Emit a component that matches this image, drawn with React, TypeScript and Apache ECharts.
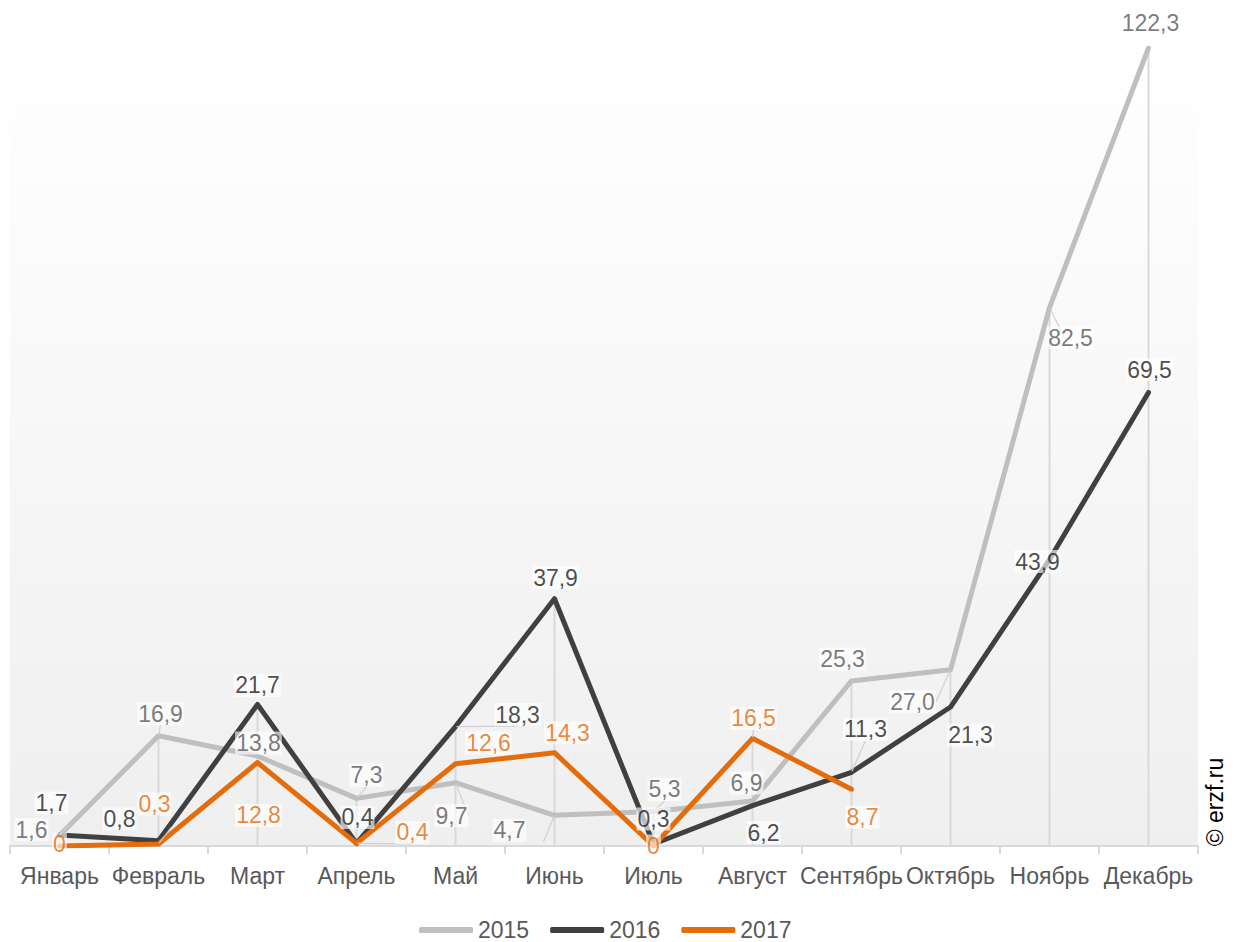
import React, { useEffect, useRef } from 'react';
import * as echarts from 'echarts';

const months = ['Январь', 'Февраль', 'Март', 'Апрель', 'Май', 'Июнь', 'Июль', 'Август', 'Сентябрь', 'Октябрь', 'Ноябрь', 'Декабрь'];
const seriesNames = ['2015', '2016', '2017'];
const values2015 = [1.6, 16.9, 13.8, 7.3, 9.7, 4.7, 5.3, 6.9, 25.3, 27.0, 82.5, 122.3];
const values2016 = [1.7, 0.8, 21.7, 0.4, 18.3, 37.9, 0.3, 6.2, 11.3, 21.3, 43.9, 69.5];
const values2017: (number | null)[] = [0, 0.3, 12.8, 0.4, 12.6, 14.3, 0, 16.5, 8.7, null, null, null];

// label placement (styling only)
const shift2015 = [[-28, -6], [2, -22], [1, -13], [10, -23], [-4, 33], [-45, 15], [11, -22], [-6, -18], [-9, -22], [-38, 32], [21, 30], [2, -25]];
const shift2016 = [[-8, -32], [-39, -22], [0, -19], [1, -26], [62, -12], [1, -21], [0, -25], [11, 27], [14, -43], [20, 28], [-12, 2], [1, -23]];
const shift2017 = [[0, -2], [-4, -40], [1, 53], [56, -11], [33, -21], [13, -20], [0, 0], [1, -20], [11, 28], [0, 0], [0, 0], [0, 0]];
const leader2015 = [false, true, false, true, true, true, true, false, false, true, true, false];
const leader2016 = [true, false, false, false, true, false, false, false, true, false, false, false];
const leader2017 = [false, true, false, true, false, false, false, true, false, false, false, false];

const colors = ['#bfbfbf', '#404040', '#e46c0a'];
const labelColors = ['#595959', '#1f1f1f', '#e46c0a'];
const FONT = "'Liberation Sans', Arial, sans-serif";

const fmt = (v: number) => (v === 0 ? '0' : v.toFixed(1).replace('.', ','));

export default function App() {
  const ref = useRef<HTMLDivElement>(null);
  useEffect(() => {
    if (!ref.current) return;
    const chart = echarts.init(ref.current, undefined, { renderer: 'svg' });
    const all = [values2015, values2016, values2017];
    const shifts = [shift2015, shift2016, shift2017];
    const leaders = [leader2015, leader2016, leader2017];
    const dropValues = months.map((_, i) => Math.max(...all.map((s) => (s[i] == null ? 0 : (s[i] as number)))));

    const lineSeries = all.map((vals, k) => ({
      name: seriesNames[k],
      type: 'line',
      data: vals,
      showSymbol: false,
      symbol: 'none',
      silent: true,
      z: 3 + k,
      lineStyle: { color: colors[k], width: 5, cap: 'round', join: 'round' },
      itemStyle: { color: colors[k] },
    }));

    const labelSeries = all.map((vals, k) => ({
      name: seriesNames[k] + ' labels',
      type: 'scatter',
      silent: true,
      z: 10,
      symbol: 'circle',
      symbolSize: 2,
      itemStyle: { color: 'rgba(0,0,0,0)' },
      data: vals.map((v, i) =>
        v == null
          ? null
          : {
              value: v,
              label: { offset: shifts[k][i] },
              labelLine: { show: leaders[k][i] },
            }
      ),
      label: {
        show: true,
        position: 'inside',
        formatter: (p: any) => fmt(Number(p.value)),
        color: labelColors[k],
        fontSize: 23,
        fontFamily: FONT,
        backgroundColor: 'rgba(255,255,255,0.8)',
        padding: [0, 1],
      },
      labelLine: { show: false, lineStyle: { color: '#d0d0d0', width: 1.2 } },
    }));

    chart.setOption({
      animation: false,
      textStyle: { fontFamily: FONT },
      grid: {
        left: 10,
        right: 44,
        top: 48,
        bottom: 96,
        show: true,
        borderWidth: 0,
        backgroundColor: new echarts.graphic.LinearGradient(0, 0, 0, 1, [
          { offset: 0, color: '#ffffff' },
          { offset: 1, color: '#efefef' },
        ]),
      },
      legend: {
        data: seriesNames,
        left: 414,
        top: 912,
        icon: 'roundRect',
        itemWidth: 54,
        itemHeight: 6,
        itemGap: 21,
        textStyle: { color: '#595959', fontSize: 23, fontFamily: FONT, lineHeight: 26 },
      },
      xAxis: {
        type: 'category',
        data: months,
        boundaryGap: true,
        axisLine: { lineStyle: { color: '#d9d9d9', width: 2 } },
        axisTick: { show: true, length: 8, lineStyle: { color: '#d9d9d9', width: 2 } },
        axisLabel: { interval: 0, color: '#595959', fontSize: 23, fontFamily: FONT, margin: 18 },
      },
      yAxis: {
        type: 'value',
        min: 0,
        max: (v: any) => v.max,
        show: false,
        splitLine: { show: false },
      },
      graphic: [
        {
          type: 'text',
          x: 1215,
          y: 802,
          rotation: Math.PI / 2,
          style: {
            text: '© erzf.ru',
            fill: '#000000',
            fontSize: 23,
            fontFamily: FONT,
            align: 'center',
            verticalAlign: 'middle',
          },
        },
      ],
      series: [
        {
          name: 'drop',
          type: 'bar',
          data: dropValues,
          barWidth: 2,
          silent: true,
          z: 1,
          itemStyle: { color: '#d9d9d9' },
        },
        ...lineSeries,
        ...labelSeries,
      ],
    });
    return () => chart.dispose();
  }, []);
  return <div ref={ref} style={{ position: 'absolute', left: 0, top: 0, width: 1242, height: 942 }} />;
}
